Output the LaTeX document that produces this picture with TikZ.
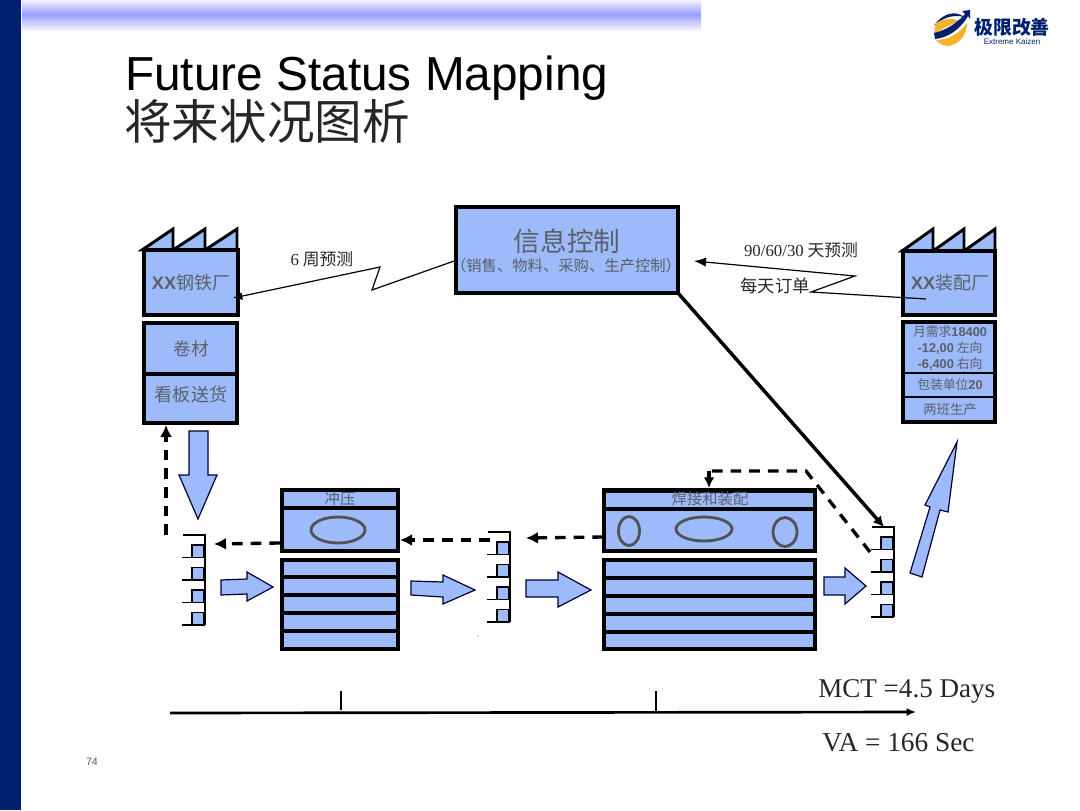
\documentclass[tikz,border=0pt]{standalone}
\usepackage{fontspec}
\setmainfont{Liberation Serif}
\setsansfont{Liberation Sans}
\newfontfamily\cjk{Noto Sans CJK SC}
\usetikzlibrary{arrows.meta}
\definecolor{navy}{HTML}{00206E}
\definecolor{fillblue}{HTML}{9DBBFA}
\definecolor{barblue}{HTML}{9A9CFF}
\definecolor{barpale}{HTML}{F4F4FF}
\definecolor{labelgrey}{HTML}{5A5F6A}
\definecolor{logoyellow}{HTML}{F5B32E}
\newcommand{\bsf}[1]{{\sffamily\bfseries #1}}
\tikzset{
  vsmbox/.style={draw=black,fill=fillblue,line width=2.5pt,line join=miter},
  procbox/.style={draw=black,fill=fillblue,line width=3.2pt,line join=miter},
  procline/.style={draw=black,line width=3pt},
  blockarrow/.style={draw=black!80!blue,fill=fillblue,line width=0.9pt,line join=miter},
  lbl/.style={text=labelgrey,font=\cjk,inner sep=0pt},
  capt/.style={text=black!85,inner sep=0pt},
  dashflow/.style={draw=black,line width=2.5pt,dash pattern=on 8pt off 6pt},
  flowtip/.style={-{Latex[length=9pt,width=9pt]}},
  stackline/.style={draw=black,line width=1pt},
  ovalshape/.style={draw=black!68,line width=2.1pt},
  zig/.style={draw=black,line width=0.9pt},
  card/.style={draw=black,fill=fillblue,line width=0.9pt}
}
\newcommand{\kanban}[3]{% x of spine, y of top, name
  \coordinate (#3top) at (#1,#2);
  \coordinate (#3bot) at (#1,#2+90);
  \foreach \k in {0,1,2,3}{
    \draw[card] (#1-13,#2+10+\k*22.5) rectangle (#1-1,#2+22.5+\k*22.5);
    \draw[stackline] (#1-23,#2+22.5+\k*22.5) -- (#1,#2+22.5+\k*22.5);
  }
  \draw[stackline] (#1-22,#2) -- (#1,#2) -- (#1,#2+90);
}
\begin{document}
\begin{tikzpicture}[x=0.75pt,y=-0.75pt]
\useasboundingbox (0,0) rectangle (1080,810);
% slide frame
\fill[navy] (0,0) rectangle (21,810);
\shade[top color=barpale,bottom color=barblue] (22,0) rectangle (701,14);
\shade[top color=barblue,bottom color=barpale] (22,14) rectangle (701,30);
% logo
\fill[navy] (934,26) .. controls (942,13) and (956,10) .. (964,17) .. controls (953,14) and (942,18) .. (934,26) -- cycle;
\fill[logoyellow] (936,23) .. controls (945,18) and (953,18) .. (960,21) .. controls (951,24) and (942,29) .. (934,34) -- cycle;
\fill[navy] (934,33) .. controls (946,30) and (956,24) .. (965,14) -- (962,11) -- (970,10) -- (970,19) -- (968,16) .. controls (960,30) and (947,38) .. (935,39) -- cycle;
\fill[logoyellow] (936,40) .. controls (948,40) and (960,33) .. (967,23) .. controls (967,36) and (958,45) .. (948,46) .. controls (943,46) and (938,43) .. (936,40) -- cycle;
\node[inner sep=0pt,text=navy,font=\cjk\bfseries\fontsize{14.2}{15}\selectfont] (logoname) at (1012,27) {极限改善};
\node[inner sep=0pt,text=navy,font=\sffamily\fontsize{6}{7}\selectfont] (logosub) at (1012,41.5) {Extreme Kaizen};
% title
\node[anchor=west,inner sep=0pt,font=\sffamily\fontsize{35.8}{38}\selectfont,text=black] (title) at (125,78) {Future Status Mapping};
\node[anchor=west,inner sep=0pt,font=\cjk\fontsize{35.7}{38}\selectfont,text=black!85] (subtitle) at (124,121) {将来状况图析};
\node[inner sep=0pt,font=\sffamily\fontsize{8}{9}\selectfont,text=black!65] (pageno) at (92,762) {74};
% information box
\draw[vsmbox] (456,207) rectangle (678,293);
\coordinate (infoW) at (457,260);
\coordinate (infoE) at (694,261);
\coordinate (infoSE) at (678,293);
\node[lbl,font=\cjk\fontsize{20}{21}\selectfont] (infotitle) at (567,241) {信息控制};
\node[lbl,font=\cjk\fontsize{11.5}{13}\selectfont] (infosub) at (566,266) {（销售、物料、采购、生产控制）};
% supplier factory
\draw[vsmbox,line width=2.2pt] (142,250) -- (173,229) -- (173,250) -- (205,229) -- (205,250) -- (237,229) -- (237,250) -- cycle;
\draw[vsmbox] (144,250) rectangle (238,315);
\node[lbl,font=\cjk\fontsize{13.5}{14}\selectfont] (steel) at (191,283) {\bsf{XX}钢铁厂};
\draw[vsmbox] (144,323) rectangle (237,423);
\draw[vsmbox,fill=none] (144,374) -- (237,374);
\node[lbl,font=\cjk\fontsize{13.2}{14}\selectfont] (coil) at (191,349) {卷材};
\node[lbl,font=\cjk\fontsize{13.6}{14}\selectfont] (kanbanship) at (191,395) {看板送货};
\coordinate (steelE) at (233,298);
% customer factory
\draw[vsmbox,line width=2.2pt] (902,251) -- (933,229) -- (933,251) -- (964,229) -- (964,251) -- (995,229) -- (995,251) -- cycle;
\draw[vsmbox] (903,251) rectangle (995,315);
\node[lbl,font=\cjk\fontsize{13.5}{14}\selectfont] (assy) at (950,283) {\bsf{XX}装配厂};
\coordinate (assyin) at (926,299);
\draw[vsmbox] (903,322) rectangle (995,422);
\draw[vsmbox,fill=none,line width=2.2pt] (903,373) -- (995,373) (903,397) -- (995,397);
\node[lbl,font=\cjk\fontsize{9.6}{11}\selectfont] (d1) at (950,332) {月需求\bsf{18400}};
\node[lbl,font=\cjk\fontsize{9.6}{11}\selectfont] (d2) at (950,348) {\bsf{-12,00} 左向};
\node[lbl,font=\cjk\fontsize{9.6}{11}\selectfont] (d3) at (950,364) {\bsf{-6,400} 右向};
\node[lbl,font=\cjk\fontsize{9.6}{11}\selectfont] (d4) at (950,385) {包装单位\bsf{20}};
\node[lbl,font=\cjk\fontsize{10}{11}\selectfont] (d5) at (950,409) {两班生产};
% forecasts
\node[capt,font=\cjk\fontsize{12.6}{14}\selectfont] (f6) at (322,259) {{\rmfamily 6} 周预测};
\node[capt,font=\cjk\fontsize{12.6}{14}\selectfont] (f90) at (801,250) {{\rmfamily 90/60/30} 天预测};
\node[capt,font=\cjk\fontsize{13}{14}\selectfont] (fd) at (775,286) {每天订单};
\coordinate (zl1) at (380,267);
\coordinate (zl2) at (372,290);
\coordinate (zr1) at (855,276);
\coordinate (zr2) at (811,292);
\draw[zig,-{Latex[length=7pt,width=6pt]}] (infoW) -- (zl2) -- (zl1) -- (steelE);
\draw[zig,-{Latex[length=9pt,width=7pt]}] (assyin) -- (zr2) -- (zr1) -- (infoE);
% process 1
\draw[procbox] (282,490) rectangle (398,551);
\draw[procline] (282,508) -- (398,508);
\node[lbl,font=\cjk\fontsize{11.5}{12}\selectfont] (stamp) at (340,499) {冲压};
\draw[ovalshape] (338,530) ellipse (27 and 13);
\draw[procbox] (282,560) rectangle (398,649);
\draw[procline] (282,577) -- (398,577) (282,595) -- (398,595) (282,613) -- (398,613) (282,631) -- (398,631);
% process 2
\draw[procbox] (604,490.5) rectangle (815,551);
\draw[procline] (604,509) -- (815,509);
\node[lbl,font=\cjk\fontsize{11.5}{12}\selectfont] (weld) at (710,499) {焊接和装配};
\draw[ovalshape] (629,531) ellipse (10.5 and 14.5);
\draw[ovalshape] (704,529) ellipse (28 and 12);
\draw[ovalshape] (785,532) ellipse (12 and 14.5);
\draw[procbox] (604,560) rectangle (815,649);
\draw[procline] (604,577.5) -- (815,577.5) (604,595.5) -- (815,595.5) (604,613.5) -- (815,613.5) (604,631.5) -- (815,631.5);
% kanban stacks
\kanban{205}{535}{sa}
\kanban{510}{532}{sb}
\kanban{894}{527}{sc}
\fill[black!60] (478,636) circle (0.7);
% block arrows
\draw[blockarrow] (189,431) -- (208,431) -- (208,475) -- (217,475) -- (198,519) -- (179,475) -- (189,475) -- cycle;
\draw[blockarrow] (221,580) -- (247,579) -- (247,572) -- (273,587) -- (247,601) -- (247,594) -- (221,595) -- cycle;
\draw[blockarrow] (411,581) -- (443,582) -- (443,575) -- (475,590) -- (443,604) -- (443,597) -- (411,595) -- cycle;
\draw[blockarrow] (526,580) -- (558,580) -- (558,572) -- (591,590) -- (558,607) -- (558,597) -- (526,597) -- cycle;
\draw[blockarrow] (824,577) -- (845,577) -- (845,568) -- (866,586) -- (845,604) -- (845,595) -- (824,595) -- cycle;
\draw[blockarrow] (910,573) -- (930,507) -- (925,505) -- (957,442) -- (948,512) -- (940,510) -- (922,577) -- cycle;
% information flows
\coordinate (pullA) at (166,535);
\coordinate (pullAend) at (166,425);
\coordinate (p1w) at (280,543);
\coordinate (sain) at (214,544);
\coordinate (sbout) at (490,540);
\coordinate (p1e) at (400,540);
\coordinate (p2w) at (603,537);
\coordinate (sbin) at (526,538);
\coordinate (scout) at (870,552);
\coordinate (bend) at (806,471);
\coordinate (wtop) at (709,471);
\coordinate (wend) at (709,488);
\coordinate (scin) at (884,527);
\draw[dashflow,flowtip] (pullA) -- (pullAend);
\draw[dashflow,flowtip] (p1w) -- (sain);
\draw[dashflow,flowtip] (sbout) -- (p1e);
\draw[dashflow,flowtip] (p2w) -- (sbin);
\draw[dashflow] (scout) -- (bend) -- (wtop);
\draw[draw=black,line width=2.5pt,-{Latex[length=8pt,width=8pt]}] (wtop) -- (wend);
\draw[draw=black,line width=2.6pt,-{Latex[length=8pt,width=8pt]}] (infoSE) -- (scin);
% timeline
\coordinate (tlA) at (170,713);
\coordinate (tlB) at (916,712);
\draw[draw=black,line width=2pt,-{Latex[length=7pt,width=6pt]}] (tlA) -- (tlB);
\draw[draw=black,line width=2pt] (341,691) -- (341,710);
\draw[draw=black,line width=2pt] (656,691) -- (656,712);
\node[capt,anchor=west,font=\fontsize{20.3}{22}\selectfont] (mct) at (818,691) {MCT =4.5 Days};
\node[capt,anchor=west,font=\fontsize{20.5}{22}\selectfont] (va) at (822,743) {VA = 166 Sec};
\end{tikzpicture}
\end{document}
